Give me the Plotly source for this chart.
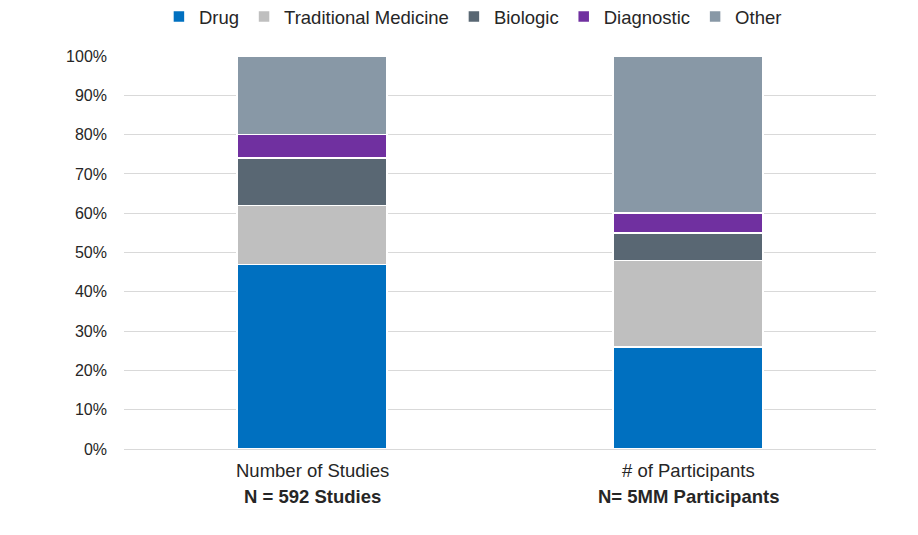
import plotly.graph_objects as go

# Data
categories = ["Number of Studies", "# of Participants"]
subtitles = ["N = 592 Studies", "N= 5MM Participants"]
series = ["Drug", "Traditional Medicine", "Biologic", "Diagnostic", "Other"]
drug = [47, 26]
traditional = [15, 22]
biologic = [12, 7]
diagnostic = [6, 5]
other = [20, 40]
colors = ["#0070C0", "#BFBFBF", "#596773", "#7030A0", "#8898A6"]

values = [drug, traditional, biologic, diagnostic, other]

fig = go.Figure()
for name, vals, col in zip(series, values, colors):
    fig.add_trace(go.Bar(x=categories, y=vals, name=name,
                         marker=dict(color=col, line=dict(color="white", width=1.5)),
                         width=0.4))

for cat, sub in zip(categories, subtitles):
    fig.add_annotation(x=cat, y=0, xref="x", yref="paper", yshift=-21,
                       text=cat, showarrow=False, yanchor="middle",
                       font=dict(size=18.5, color="#262626"))
    fig.add_annotation(x=cat, y=0, xref="x", yref="paper", yshift=-47,
                       text="<b>" + sub + "</b>", showarrow=False, yanchor="middle",
                       font=dict(size=18.5, color="#262626"))

# page body adds an 8px offset, so size/margins are reduced by 8
fig.update_layout(
    barmode="stack",
    width=910, height=527,
    margin=dict(l=116, r=42, t=48, b=86),
    plot_bgcolor="white", paper_bgcolor="white",
    font=dict(family="Liberation Sans, Arial, sans-serif", size=16, color="#262626"),
    legend=dict(orientation="h", x=0.464, xanchor="center",
                yref="container", y=1 - 9 / 527, yanchor="middle",
                itemwidth=30, font=dict(size=18.5), traceorder="normal"),
)
fig.update_xaxes(showticklabels=False, showline=True, linecolor="#d9d9d9",
                 linewidth=1, ticks="")
fig.update_yaxes(range=[0, 100], dtick=10, ticksuffix="%", showgrid=True,
                 gridcolor="#d9d9d9", gridwidth=1, zeroline=False,
                 ticklabelstandoff=16)

fig.write_html("out.html")
